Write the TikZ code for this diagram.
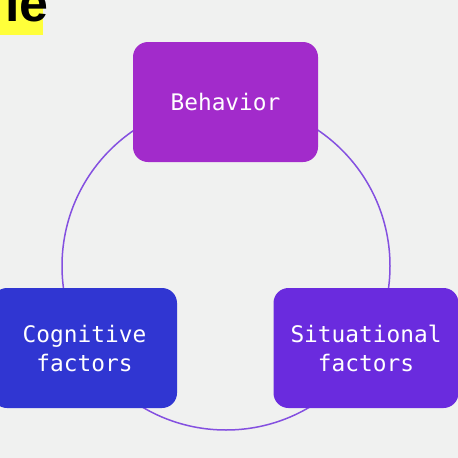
\documentclass[tikz,border=0pt]{standalone}
\usepackage{fontspec}
\newfontfamily\boxfont{DejaVu Sans Mono}
\newfontfamily\titlefont{Liberation Sans}
\definecolor{bg}{HTML}{F0F1F0}
\definecolor{behav}{HTML}{A22BCB}
\definecolor{cogn}{HTML}{3036D2}
\definecolor{situ}{HTML}{6A2BDE}
\definecolor{ring}{HTML}{8450E0}
\definecolor{hl}{HTML}{FFFF3A}
\tikzset{
  factorbox/.style={rounded corners=15pt, minimum width=185pt, minimum height=120pt,
    text=white, align=center, font=\boxfont\fontsize{22.8}{29}\selectfont, inner sep=0pt},
}
\begin{document}
\begin{tikzpicture}[x=1pt,y=-1pt]
\useasboundingbox (0,0) rectangle (458,458);
\fill[bg] (0,0) rectangle (458,458);
\begin{scope}
\clip (0,0) rectangle (458,458);
\fill[hl] (0,-5) rectangle (43,35);
\node[anchor=south east, inner sep=0pt, font=\titlefont\bfseries\fontsize{52}{52}\selectfont] (title) at (49,22) {le};
\draw[ring, line width=1.5pt] (226,266) circle (164);
\node[factorbox, fill=behav] (behavior) at (225.5,102) {Behavior};
\node[factorbox, fill=cogn] (cognitive) at (84.5,348) {Cognitive\\factors};
\node[factorbox, fill=situ] (situational) at (366,348) {Situational\\factors};
\end{scope}
\end{tikzpicture}
\end{document}
